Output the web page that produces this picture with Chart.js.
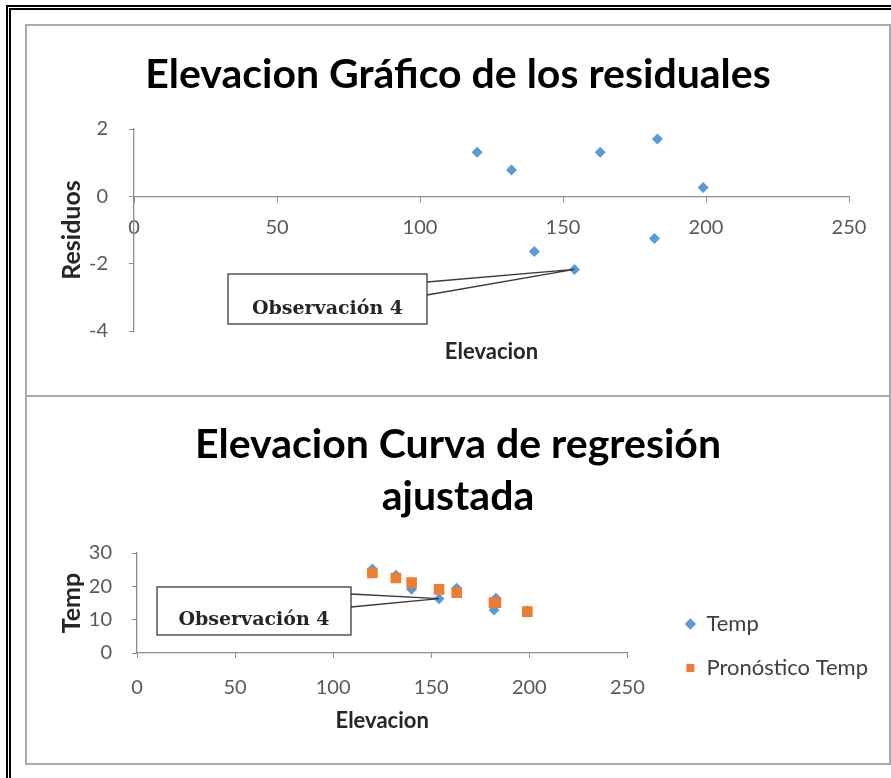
<!DOCTYPE html>
<html>
<head>
<meta charset="utf-8">
<script src="https://cdn.jsdelivr.net/npm/chart.js@4.4.1/dist/chart.umd.min.js"></script>
<style>
  body { margin: 0; background: #fff; width: 891px; height: 778px; overflow: hidden; position: relative; }
  #frame { position: absolute; left: 6px; top: 5px; width: 1000px; height: 1000px;
           border-left: 5px double #000; border-top: 5px double #000; }
  .panel { position: absolute; left: 25px; width: 862px; border: 2px solid #ababab; background: #fff; }
  #p1 { top: 24px; height: 369px; }
  #p2 { top: 397px; height: 366px; border-top: none; }
  canvas { position: absolute; left: 0; top: 0; }
</style>
</head>
<body>
<div id="frame"></div>
<div class="panel" id="p1"><canvas id="chartOne" width="862" height="369"></canvas></div>
<div class="panel" id="p2"><canvas id="chartTwo" width="862" height="366"></canvas></div>
<script>
// datos
const elevacion = [120, 132, 140, 154, 163, 183, 182, 199];
const residuos = [1.31, 0.78, -1.64, -2.17, 1.31, 1.70, -1.25, 0.26];
const temp = [25.2, 23.3, 19.1, 16.3, 19.4, 16.4, 12.9, 12.7];
const pronostico = [24.0, 22.5, 21.1, 19.1, 18.1, 15.1, 15.1, 12.4];

const elevTicks = [0, 50, 100, 150, 200, 250];
const residTicks = [-4, -2, 0, 2];
const tempTicks = [0, 10, 20, 30];

const azul = '#5B9BD5';
const naranja = '#ED7D31';
const gris = '#8c8c8c';
const tickColor = '#595959';
const tickFont = { family: 'Lato', size: 20 };
const axisTitleFont = { family: 'Lato', size: 22, weight: 'bold', lineHeight: 1.2 };
const sideTitleFont = { family: 'Lato', size: 25, weight: 'bold', lineHeight: 1.2 };
const titleFont = { family: 'Lato', size: 41, weight: 'bold' };

function puntos(xs, ys) {
    return xs.map((x, i) => ({ x: x, y: ys[i] }));
}

function fijarTicks(values) {
    return function (scale) {
        scale.ticks = values.map(v => ({ value: v }));
    };
}

// eje vacio que solo reserva espacio a la derecha
function hueco(ancho, peso) {
    return {
        type: 'linear',
        position: 'right',
        weight: peso,
        afterFit: s => { s.width = ancho; },
        grid: { display: false },
        border: { display: false },
        ticks: { display: false }
    };
}

// caja "Observación 4" con su flecha al punto
const calloutPlugin = {
    id: 'callout',
    afterDatasetsDraw(chart, args, opts) {
        const pt = chart.getDatasetMeta(opts.datasetIndex).data[opts.index];
        const b = opts.box;
        const ctx = chart.ctx;
        ctx.save();
        ctx.strokeStyle = '#3a3a3a';
        ctx.lineWidth = 1.3;
        ctx.beginPath();
        ctx.moveTo(b.x + b.w, b.y + opts.tail[0]);
        ctx.lineTo(pt.x, pt.y);
        ctx.lineTo(b.x + b.w, b.y + opts.tail[1]);
        ctx.stroke();
        ctx.fillStyle = '#fff';
        ctx.fillRect(b.x, b.y, b.w, b.h);
        ctx.strokeRect(b.x, b.y, b.w, b.h);
        ctx.fillStyle = '#262626';
        ctx.font = 'bold 19px "DejaVu Serif"';
        ctx.textAlign = 'center';
        ctx.textBaseline = 'alphabetic';
        ctx.fillText(opts.text, b.x + b.w / 2, b.y + opts.baseline);
        ctx.restore();
    }
};

function getChartOne() {
    const ctxOne = document.getElementById('chartOne').getContext('2d');
    return new Chart(ctxOne, {
        type: 'scatter',
        data: {
            datasets: [{
                label: 'Residuos',
                data: puntos(elevacion, residuos),
                pointStyle: 'rectRot',
                pointRadius: 5.5,
                backgroundColor: azul,
                borderColor: azul,
                borderWidth: 0,
                xAxisID: 'x',
                yAxisID: 'y'
            }]
        },
        plugins: [calloutPlugin],
        options: {
            responsive: false,
            animation: false,
            layout: { padding: 0 },
            plugins: {
                legend: { display: false },
                tooltip: { enabled: false },
                title: {
                    display: true,
                    text: 'Elevacion Gráfico de los residuales',
                    color: '#000',
                    font: titleFont,
                    padding: { top: 24.4, bottom: 29.4 }
                },
                callout: {
                    datasetIndex: 0, index: 3, text: 'Observación 4',
                    box: { x: 201, y: 248, w: 199, h: 50 }, tail: [8, 21], baseline: 40
                }
            },
            scales: {
                x: {
                    type: 'linear',
                    position: { y: 0 },
                    min: 0, max: 250,
                    afterBuildTicks: fijarTicks(elevTicks),
                    afterFit: s => { s.height = 0; },
                    grid: { drawOnChartArea: false, tickLength: 5, color: gris },
                    border: { color: gris, width: 1.3 },
                    ticks: { padding: 14, color: tickColor, font: tickFont, maxRotation: 0 }
                },
                x2: {
                    type: 'linear',
                    position: 'bottom',
                    min: 0, max: 250,
                    afterFit: s => { s.height = 64; },
                    grid: { display: false },
                    border: { display: false },
                    ticks: { display: false },
                    title: { display: true, text: 'Elevacion', color: '#262626', font: axisTitleFont, padding: { top: 0, bottom: 29.8 } }
                },
                y: {
                    type: 'linear',
                    position: 'left',
                    min: -4, max: 2,
                    afterBuildTicks: fijarTicks(residTicks),
                    afterFit: s => { s.width = 107; },
                    grid: { drawOnChartArea: false, tickLength: 5, color: gris },
                    border: { color: gris, width: 1.3 },
                    ticks: { padding: 21, color: tickColor, font: tickFont },
                    title: { display: true, text: 'Residuos', color: '#262626', font: sideTitleFont, padding: { top: 29.5, bottom: 0 } }
                },
                gap: hueco(40, 0)
            }
        }
    });
}

function getChartTwo() {
    const ctxTwo = document.getElementById('chartTwo').getContext('2d');
    return new Chart(ctxTwo, {
        type: 'scatter',
        data: {
            datasets: [{
                label: 'Temp',
                data: puntos(elevacion, temp),
                pointStyle: 'rectRot',
                pointRadius: 5.5,
                backgroundColor: azul,
                borderColor: azul,
                borderWidth: 0,
                order: 1,
                xAxisID: 'x',
                yAxisID: 'y'
            }, {
                label: 'Pronóstico Temp',
                data: puntos(elevacion, pronostico),
                pointStyle: 'rect',
                pointRadius: 7.5,
                backgroundColor: naranja,
                borderColor: naranja,
                borderWidth: 0,
                order: 0,
                xAxisID: 'x',
                yAxisID: 'y'
            }]
        },
        plugins: [calloutPlugin],
        options: {
            responsive: false,
            animation: false,
            layout: { padding: 0 },
            plugins: {
                tooltip: { enabled: false },
                title: {
                    display: true,
                    text: ['Elevacion Curva de regresión', 'ajustada'],
                    color: '#000',
                    font: Object.assign({}, titleFont, { lineHeight: 52 / 41 }),
                    padding: { top: 22, bottom: 30 }
                },
                legend: {
                    position: 'right',
                    align: 'start',
                    maxWidth: 300,
                    title: { display: true, text: ' ', font: { size: 10, lineHeight: 1 }, padding: { top: 184, bottom: 0 } },
                    labels: {
                        usePointStyle: true,
                        boxWidth: 10,
                        boxHeight: 8,
                        padding: 22,
                        color: '#404040',
                        font: { family: 'Lato', size: 22 },
                        sort: (a, b) => a.datasetIndex - b.datasetIndex
                    }
                },
                callout: {
                    datasetIndex: 0, index: 3, text: 'Observación 4',
                    box: { x: 130, y: 190, w: 194, h: 48 }, tail: [7, 20], baseline: 38
                }
            },
            scales: {
                x: {
                    type: 'linear',
                    position: 'bottom',
                    min: 0, max: 250,
                    afterBuildTicks: fijarTicks(elevTicks),
                    afterFit: s => { s.height = 110; },
                    grid: { drawOnChartArea: false, tickLength: 5, color: gris },
                    border: { color: gris, width: 1.3 },
                    ticks: { padding: 18, color: tickColor, font: tickFont, maxRotation: 0 },
                    title: { display: true, text: 'Elevacion', color: '#262626', font: axisTitleFont, padding: { top: 0, bottom: 28.8 } }
                },
                y: {
                    type: 'linear',
                    position: 'left',
                    min: 0, max: 30,
                    afterBuildTicks: fijarTicks(tempTicks),
                    afterFit: s => { s.width = 110; },
                    grid: { drawOnChartArea: false, tickLength: 5, color: gris },
                    border: { color: gris, width: 1.3 },
                    ticks: { padding: 20, color: tickColor, font: tickFont },
                    title: { display: true, text: 'Temp', color: '#262626', font: sideTitleFont, padding: { top: 30, bottom: 0 } }
                },
                // espacio entre el area del grafico y la leyenda, y tras la leyenda
                gap: hueco(36, 0),
                gap2: hueco(11, 2000)
            }
        }
    });
}

getChartOne();
getChartTwo();
</script>
</body>
</html>
